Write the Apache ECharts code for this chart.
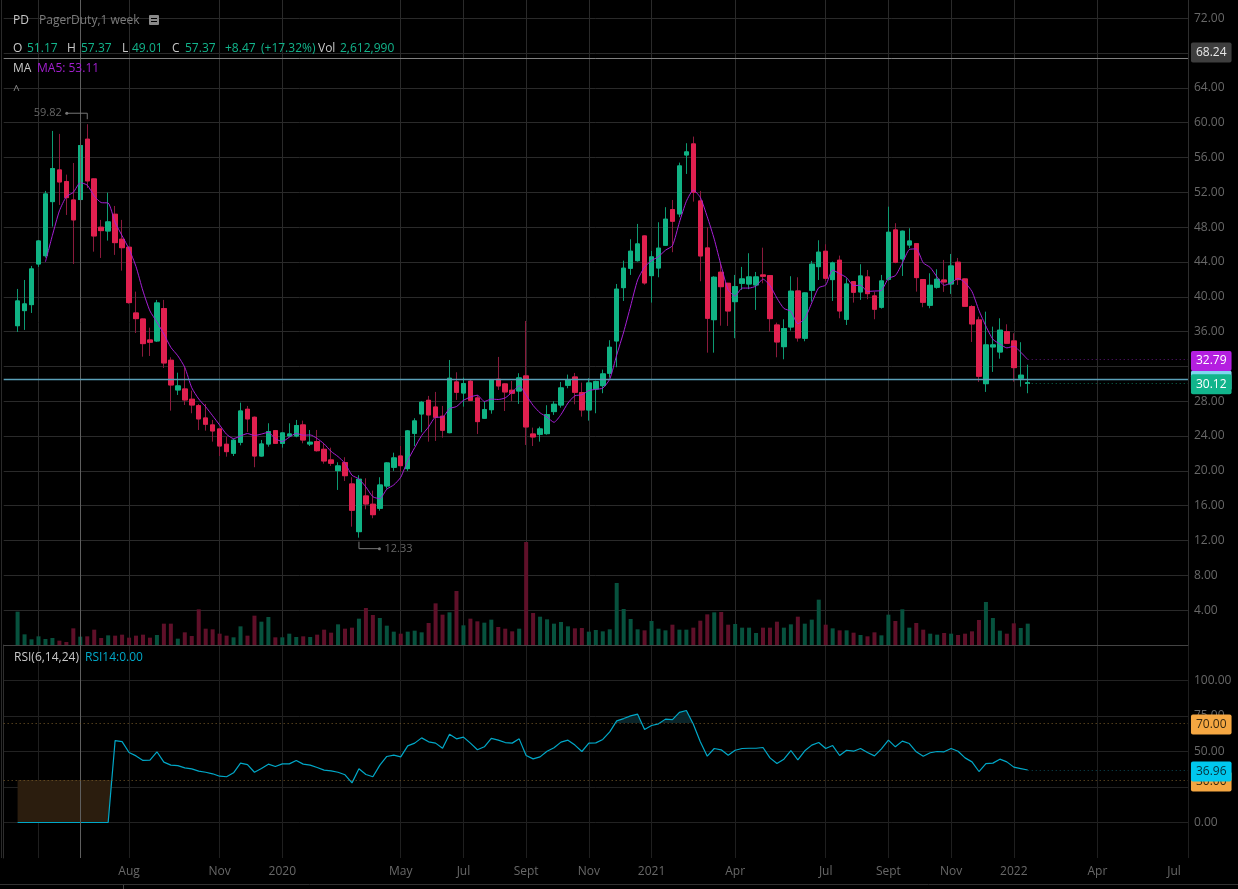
<!DOCTYPE html>
<html><head><meta charset="utf-8">
<style>html,body{margin:0;padding:0;background:#000}#c{width:1238px;height:889px}</style>
<script src="https://cdn.jsdelivr.net/npm/echarts@6/dist/echarts.min.js"></script>
</head><body><div id="c"></div>
<script>
const opens=[36.68,38.41,39.10,43.77,44.72,50.93,54.57,53.23,51.12,51.17,58.10,53.54,47.99,47.56,49.48,46.61,45.69,38.14,37.45,35.04,34.93,38.64,32.71,29.30,29.41,28.23,27.49,26.08,25.28,24.82,23.06,22.03,23.29,27.08,26.16,21.71,23.09,24.62,23.17,24.01,24.01,25.28,23.09,23.36,22.48,21.26,20.03,20.95,18.50,13.02,17.12,16.17,15.71,18.27,20.42,21.71,20.26,24.32,26.54,28.11,27.34,26.28,24.39,30.22,28.95,30.30,28.38,26.05,27.03,30.53,29.99,29.26,29.18,30.91,24.24,24.21,24.28,26.81,27.57,29.84,30.79,28.99,27.00,29.41,29.79,31.22,34.93,41.05,43.28,44.15,46.99,42.43,43.31,45.92,50.01,49.52,56.29,57.56,51.01,45.61,37.37,42.82,41.55,39.44,41.55,41.47,41.36,42.51,42.43,36.76,34.27,36.53,40.67,35.24,40.75,43.46,45.23,41.97,44.20,37.42,41.74,40.56,42.28,40.10,38.80,42.01,47.68,44.35,45.95,46.10,41.97,39.03,41.10,41.93,41.47,43.97,42.05,38.87,37.34,30.02,34.24,33.66,36.00,34.93,30.64,30.05];
const closes=[39.52,39.18,43.20,46.41,51.81,54.72,53.19,51.39,48.83,57.37,53.31,46.99,47.60,48.60,46.22,45.64,39.33,37.49,34.62,34.78,39.29,32.40,29.87,29.76,28.15,27.57,25.97,25.36,24.59,22.86,22.21,23.52,26.88,25.97,21.71,23.09,24.51,23.17,24.36,24.24,25.20,23.55,23.29,22.32,21.14,20.88,20.57,19.45,15.48,19.04,16.20,14.97,18.38,20.91,21.49,20.60,24.59,25.74,27.88,26.43,26.16,24.67,30.64,29.03,30.02,28.11,25.66,27.03,30.45,29.76,29.07,28.92,30.68,25.05,23.90,24.82,26.46,27.65,29.53,30.48,29.03,27.00,30.10,30.25,31.14,34.20,40.87,43.28,45.23,46.07,41.59,44.58,45.58,48.91,48.68,55.03,56.64,52.01,44.69,37.53,42.24,41.16,38.37,41.16,42.05,42.28,42.28,42.36,37.49,34.81,36.34,40.64,35.27,40.44,43.74,45.12,42.13,43.89,38.37,41.47,40.52,42.39,40.36,38.57,41.82,47.41,43.97,47.53,46.41,42.20,39.37,41.32,42.01,41.70,43.54,41.97,38.91,36.88,30.87,34.47,34.47,36.16,34.66,31.86,30.99,30.12];
const highs=[40.90,41.93,43.54,46.50,52.16,59.05,58.71,54.03,55.37,57.37,59.82,53.60,48.83,51.96,50.43,48.83,45.80,40.59,37.50,36.45,39.64,39.64,33.05,31.28,31.91,29.22,27.69,27.69,25.85,24.90,23.93,23.67,27.84,27.46,26.25,23.55,25.47,24.70,24.40,25.47,25.85,25.77,24.70,24.70,23.17,22.67,20.99,21.57,19.27,19.50,19.15,17.73,19.27,21.00,22.09,22.86,24.70,26.05,28.03,28.61,29.07,27.46,32.74,31.33,30.71,30.53,28.72,27.95,30.53,33.09,30.06,30.33,31.22,37.22,24.97,25.08,27.54,28.00,30.22,31.06,31.25,30.14,30.64,30.37,31.63,35.01,41.47,44.15,46.61,48.37,47.05,45.27,48.56,50.29,51.12,55.41,57.64,58.40,52.16,47.99,42.36,43.85,41.60,42.51,43.43,45.00,42.85,45.64,42.50,37.03,37.42,42.36,42.24,40.50,44.12,46.49,46.03,44.04,44.73,42.13,41.80,43.74,43.08,40.59,42.51,50.35,48.45,47.60,47.87,46.15,42.00,42.70,43.16,44.23,44.92,44.46,42.10,39.03,37.72,38.29,36.57,37.53,36.84,35.81,34.78,32.20];
const lows=[35.96,36.19,38.14,43.43,44.50,48.06,50.55,49.40,43.77,49.01,52.50,45.18,44.46,46.45,44.81,43.00,39.20,35.84,33.12,33.20,34.81,31.82,26.92,28.72,27.57,26.62,24.70,24.62,23.36,21.71,21.63,21.71,22.94,24.47,20.42,21.65,22.78,23.09,22.67,23.93,23.86,23.17,22.86,22.21,20.83,20.57,17.81,18.84,13.59,12.33,15.59,14.56,15.43,17.96,20.00,19.91,20.00,22.86,24.44,23.36,23.44,23.82,24.32,28.15,27.38,28.03,24.24,25.97,26.57,29.30,26.88,28.03,27.69,22.98,22.86,23.36,24.16,26.43,27.26,29.49,27.65,26.23,25.77,26.62,28.92,30.71,31.91,39.52,42.51,44.04,41.39,39.33,42.24,45.85,45.12,49.14,54.11,50.93,41.78,33.58,33.58,36.68,36.65,35.24,40.79,40.87,38.49,41.55,36.00,33.05,32.82,36.11,34.85,34.89,39.44,41.93,41.82,39.52,37.53,36.76,39.33,39.64,39.72,37.42,38.64,41.85,43.85,42.39,45.58,40.59,38.80,38.68,40.93,40.56,40.33,41.36,38.87,34.81,30.22,29.07,31.37,32.89,34.60,30.25,29.68,28.92];
// volume in millions of shares
const volumes=[10.42,3.33,1.77,2.71,1.88,2.19,1.35,0.94,5.21,2.61,2.71,4.79,2.19,3.02,2.92,3.23,2.29,2.92,3.23,2.29,3.13,6.67,6.67,1.98,3.96,2.81,11.15,5.10,4.90,3.54,2.92,2.40,5.83,2.92,9.17,7.29,8.75,2.40,2.40,3.54,2.50,2.71,2.50,3.23,4.79,3.85,6.46,5.10,5.42,8.23,11.56,9.38,8.44,6.04,4.17,3.54,4.17,4.48,3.96,6.88,13.02,9.48,10.21,16.88,6.15,8.23,7.40,6.98,7.92,5.63,5.10,4.27,5.10,32.19,10.00,8.85,8.02,6.67,7.19,5.83,5.21,5.31,4.17,4.69,4.27,4.90,19.38,11.25,8.13,4.90,4.58,7.50,5.10,4.58,6.35,4.79,4.79,5.42,7.60,9.58,10.21,10.31,6.35,6.56,5.42,5.42,3.75,5.42,5.42,7.29,5.42,6.46,8.85,6.67,7.92,14.17,6.35,5.21,4.58,4.58,3.85,3.13,2.71,3.96,3.02,9.48,7.50,11.15,5.42,6.88,4.79,3.54,3.23,3.75,3.54,3.13,3.54,4.27,7.81,13.44,8.44,4.48,3.54,6.77,5.31,6.67];
const ma5=[null,null,null,null,44.02,47.06,49.87,51.50,51.99,53.11,52.82,51.58,50.82,50.77,48.54,47.01,45.48,43.46,40.66,38.37,37.10,35.72,34.19,33.22,31.89,29.55,28.26,27.36,26.33,25.27,24.20,23.71,24.01,24.29,24.06,24.23,24.43,23.69,23.37,23.87,24.30,24.10,24.13,23.72,23.10,22.24,21.64,20.87,19.50,19.08,18.15,17.03,16.81,17.90,18.39,19.27,21.19,22.67,24.06,25.05,26.16,26.18,27.16,27.39,28.10,28.49,28.69,27.97,28.25,28.20,28.39,29.05,29.78,28.70,27.52,26.67,26.18,25.58,26.47,27.79,28.63,28.74,29.23,29.37,29.50,30.54,33.31,35.95,38.94,41.93,43.41,44.15,44.61,45.35,45.87,48.56,50.97,52.25,51.41,49.18,46.62,43.53,40.80,40.09,41.00,41.00,41.23,42.03,41.29,39.84,38.66,38.33,36.91,37.50,39.29,41.04,41.34,43.06,42.65,42.20,41.28,41.33,40.62,40.66,40.73,42.11,42.43,43.86,45.43,45.50,43.90,43.37,42.26,41.32,41.59,42.11,41.63,40.60,38.43,36.62,35.12,34.57,34.13,34.32,33.63,32.79];
const rsi14=[0,0,0,0,0,0,0,0,0,0,0,0,0,0,57.7,57.0,49.3,46.9,43.7,43.9,49.8,42.5,40.4,40.1,38.5,37.8,36.2,35.4,34.3,32.6,32.2,35.0,41.8,40.8,35.4,38.0,41.1,39.4,41.3,41.3,43.7,41.1,40.4,38.7,36.9,36.4,35.4,33.6,27.9,37.8,33.8,32.2,40.4,46.5,47.4,46.2,54.0,55.9,59.6,56.8,55.9,52.3,62.2,58.9,60.1,55.9,51.2,53.3,59.2,58.0,56.3,55.9,58.9,47.2,44.8,46.2,50.2,52.6,56.6,58.0,54.5,50.0,55.9,56.1,58.5,63.8,71.6,73.2,75.1,76.3,65.5,68.3,69.5,72.8,72.5,77.5,78.9,69.2,56.8,46.7,52.1,51.2,47.4,50.9,52.1,52.3,52.3,52.8,45.5,41.5,44.6,50.7,44.1,50.5,54.5,56.3,52.1,54.2,47.2,50.9,50.2,52.1,49.3,46.9,51.9,58.0,53.3,57.3,55.6,49.8,46.7,49.1,50.0,49.8,52.1,50.2,45.5,42.7,35.9,41.5,41.8,44.6,42.7,39.0,38.0,36.96];
const tickSlots=[5,18,31,40,57,66,75,84,93,105,118,127,136,145,157,170];
const labelSlots=[18,31,40,57,66,75,84,93,105,118,127,136,145,157,168];
const labelTexts=['Aug','Nov','2020','May','Jul','Sept','Nov','2021','Apr','Jul','Sept','Nov','2022','Apr','Jul'];
const priceExtremes=[[12,59.82,-1],[51,12.33,1]];
const SLOTS=171, LEAD=2;
const slots=Array.from({length:SLOTS},(_,i)=>{const j=labelSlots.indexOf(i);return j>=0?labelTexts[j]:'s'+i;});
const GREEN='#10b384',RED='#e0204f',VOLG='#07523e',VOLR='#5f1029';
const FONT="'Open Sans',sans-serif";
const candleData=opens.map((o,i)=>[i+LEAD,o,closes[i],lows[i],highs[i]]);
const bodyData=opens.map((o,i)=>[i+LEAD,o,closes[i],Math.min(o,closes[i]),Math.max(o,closes[i])]);
const volData=volumes.map((v,i)=>({value:[i+LEAD,v],itemStyle:{color:closes[i]>=opens[i]?VOLG:VOLR}}));
const maData=ma5.map((v,i)=>[i+LEAD,v]);
const rsiData=rsi14.map((v,i)=>[i+LEAD,v]);

// RSI fill polygons: area between line and the 30 / 70 levels
function band(level,above){
  const polys=[];let cur=null;
  const test=v=>above?v>level:v<level;
  for(let i=0;i<rsi14.length;i++){
    const v=rsi14[i],k=i+LEAD;
    if(test(v)){
      if(!cur){
        cur=[];
        if(i>0){const p=rsi14[i-1],t=(level-p)/(v-p);cur.push([k-1+t,level]);}
        else cur.push([k,level]);
      }
      cur.push([k,v]);
    }else if(cur){
      const p=rsi14[i-1],t=(level-p)/(v-p);
      cur.push([k-1+t,level]);polys.push(cur);cur=null;
    }
  }
  if(cur)polys.push(cur);
  return polys;
}
const polysLow=band(30,false),polysHigh=band(70,true);
const allPolys=polysLow.map(p=>({p,f:'#2b1d0e'})).concat(polysHigh.map(p=>({p,f:'#0a2429'})));

function tag(text,bg,fg){return {show:true,position:'end',distance:3,offset:[0,1.5],formatter:text,backgroundColor:bg,color:fg,
  padding:[4,5],borderRadius:2,fontFamily:FONT,fontSize:12,lineHeight:12};}
const none={show:false};
const dotted=c=>({color:c,type:[1,3],width:1});

const txt=(x,y,s,c,size)=>({type:'text',x,y,z:100,style:{text:s,fill:c,font:(size||12)+"px "+FONT,textVerticalAlign:'middle'},silent:true});
const line=(x1,y1,x2,y2,c)=>({type:'line',z:1,shape:{x1,y1,x2,y2},style:{stroke:c,lineWidth:1},silent:true});
const T='#12b58c',L='#c8c8c8';
const graphics=[
 txt(13,21,'PD',L),txt(39,21,'PagerDuty,1 week','#7c7c7c'),
 {type:'rect',z:100,shape:{x:149,y:15,width:10,height:10,r:1},style:{fill:'#8a8a8a'},silent:true},
 {type:'rect',z:101,shape:{x:151,y:18,width:6,height:1},style:{fill:'#000'},silent:true},
 {type:'rect',z:101,shape:{x:151,y:21,width:6,height:1},style:{fill:'#000'},silent:true},
 txt(13,49,'O',L),txt(27,49,'51.17',T),txt(67,49,'H',L),txt(81,49,'57.37',T),txt(122,49,'L',L),txt(132,49,'49.01',T),
 txt(172,49,'C',L),txt(185,49,'57.37',T),txt(225,49,'+8.47',T),txt(261,49,'(+17.32%)',T),txt(318,49,'Vol',L),txt(340,49,'2,612,990',T),
 txt(13,69,'MA',L),txt(37,69,'MA5: 53.11','#a31fd0'),
 txt(13,91,'^','#888'),
 txt(14,657.5,'RSI(6,14,24)',L),txt(85,657.5,'RSI14:0.00','#00a9c8'),
 line(1.5,0,1.5,858,'#2a2a2a'),line(0,884.5,1238,884.5,'#333'),line(123.5,885,123.5,889,'#444')
];

const axisLabelCol='#686868';
const yLabel={color:axisLabelCol,fontSize:12,margin:6,padding:[3,0,0,0],showMinLabel:false,showMaxLabel:false,formatter:v=>v.toFixed(2),fontFamily:FONT};
const option={
 backgroundColor:'#000',animation:false,
 textStyle:{fontFamily:FONT},
 graphic:graphics,
 grid:[{left:3.66,width:1184.3,top:0,height:645},{left:3.66,width:1184.3,top:645,height:213}],
 xAxis:[
  {type:'category',gridIndex:0,data:slots,boundaryGap:false,axisTick:{show:false},axisLabel:{show:false},
   axisLine:{show:true,lineStyle:{color:'#444'}},
   splitLine:{show:true,interval:i=>tickSlots.includes(i),lineStyle:{color:'#2a2a2a'}}},
  {type:'category',gridIndex:1,data:slots,boundaryGap:false,axisTick:{show:false},axisLine:{show:false},
   axisLabel:{show:true,color:axisLabelCol,fontSize:12,margin:8,interval:i=>labelSlots.includes(i),fontFamily:FONT},
   splitLine:{show:true,interval:i=>tickSlots.includes(i),lineStyle:{color:'#1f1f1f'}}},
  {type:'value',gridIndex:1,min:0,max:170,show:false}
 ],
 yAxis:[
  {type:'value',gridIndex:0,position:'right',min:0,max:74.09,interval:4,
   axisLine:{show:true,lineStyle:{color:'#2e2e2e'}},axisTick:{show:false},axisLabel:yLabel,
   splitLine:{show:true,showMinLine:false,showMaxLine:false,lineStyle:{color:'#2a2a2a'}}},
  {type:'value',gridIndex:0,position:'right',min:0,max:201.6,show:false,splitLine:{show:false}},
  {type:'value',gridIndex:1,position:'right',min:-25,max:125,interval:25,
   axisLine:{show:true,lineStyle:{color:'#2e2e2e'}},axisTick:{show:false},axisLabel:yLabel,
   splitLine:{show:true,showMinLine:false,showMaxLine:false,lineStyle:{color:'#222'}}}
 ],
 series:[
  {name:'Volume',type:'bar',xAxisIndex:0,yAxisIndex:1,data:volData,barWidth:4,z:2,silent:true,encode:{x:0,y:1}},
  {name:'PD',type:'candlestick',xAxisIndex:0,yAxisIndex:0,data:candleData,barWidth:5,z:3,silent:true,
   encode:{x:0,y:[1,2,3,4]},
   itemStyle:{color:GREEN,color0:RED,borderColor:'#0d9a72',borderColor0:'#8a1a3c',borderWidth:1},
   markLine:{silent:true,symbol:['none','none'],animation:false,z:6,data:[
     {xAxis:slots[11],label:none,lineStyle:{color:'#5e5e5e',type:'solid',width:1}},
     {yAxis:67.39,label:none,lineStyle:{color:'#808080',type:'solid',width:1}},
     {yAxis:68.24,lineStyle:{color:'transparent'},label:tag('68.24','#3e3e3e','#e8e8e8')},
     {yAxis:30.56,lineStyle:{color:'#5aa0b8',type:'solid',width:1.4},label:tag('30.56','#7fd6ef','#7fd6ef')},
     [{coord:[slots[147],30.12],label:tag('30.12',T,'#fff'),lineStyle:dotted('#0c6e55')},{coord:[slots[170],30.12]}]
   ]}},
  {name:'PD bodies',type:'candlestick',xAxisIndex:0,yAxisIndex:0,data:bodyData,barWidth:5,z:4,silent:true,
   encode:{x:0,y:[1,2,3,4]},
   itemStyle:{color:GREEN,color0:RED,borderColor:GREEN,borderColor0:RED,borderWidth:1}},
  {name:'MA5',type:'line',xAxisIndex:0,yAxisIndex:0,data:maData,showSymbol:false,symbol:'none',smooth:0.2,z:5,silent:true,
   lineStyle:{color:'#a61fd6',width:1},
   markLine:{silent:true,symbol:['none','none'],animation:false,z:7,data:[
     [{coord:[slots[147],32.79],label:tag('32.79','#b41fe0','#fff'),lineStyle:dotted('#5d1478')},{coord:[slots[170],32.79]}]
   ]}},
  {name:'Extremes',type:'custom',xAxisIndex:0,yAxisIndex:0,z:6,silent:true,clip:false,
   data:priceExtremes,encode:{x:0,y:1},
   renderItem(params,api){
     const [k,v,dir]=priceExtremes[params.dataIndex];
     const p=api.coord([k,v]);const col='#777';
     const barY=dir<0?p[1]-11:p[1]+11, tipX=dir<0?p[0]-20.5:p[0]+20.5;
     const stub=dir<0?p[1]-5:p[1]+4;
     return {type:'group',children:[
       {type:'polyline',shape:{points:[[p[0],stub],[p[0],barY],[tipX,barY]]},style:{stroke:col,fill:null,lineWidth:1}},
       {type:'circle',shape:{cx:tipX,cy:barY,r:1.5},style:{fill:col}},
       {type:'text',x:dir<0?tipX-5:tipX+5,y:barY,style:{text:v.toFixed(2),fill:'#666',font:"11px "+FONT,textAlign:dir<0?'right':'left',textVerticalAlign:'middle'}}
     ]};
   }},
  {name:'RSI fill',type:'custom',xAxisIndex:2,yAxisIndex:2,z:2,silent:true,
   data:allPolys.map(o=>o.p[0]),encode:{x:0,y:1},
   renderItem(params,api){
     const o=allPolys[params.dataIndex];
     return {type:'polygon',shape:{points:o.p.map(c=>api.coord(c))},style:{fill:o.f}};
   }},
  {name:'RSI14',type:'line',xAxisIndex:1,yAxisIndex:2,data:rsiData,showSymbol:false,symbol:'none',z:5,silent:true,
   lineStyle:{color:'#00a8c8',width:1.2},
   markLine:{silent:true,symbol:['none','none'],animation:false,z:7,data:[
     {xAxis:slots[11],label:none,lineStyle:{color:'#5e5e5e',type:'solid',width:1}},
     {yAxis:70,label:tag('70.00','#f5a742','#3a2a10'),lineStyle:dotted('#7a5c2a')},
     {yAxis:30,label:tag('30.00','#f5a742','#3a2a10'),lineStyle:dotted('#7a5c2a')},
     [{coord:[slots[147],36.96],label:tag('36.96','#00c8ee','#06323c'),lineStyle:dotted('#0a4a58')},{coord:[slots[170],36.96]}]
   ]}}
 ]
};
const chart=echarts.init(document.getElementById('c'),null,{renderer:'canvas'});
chart.setOption(option);
</script></body></html>
